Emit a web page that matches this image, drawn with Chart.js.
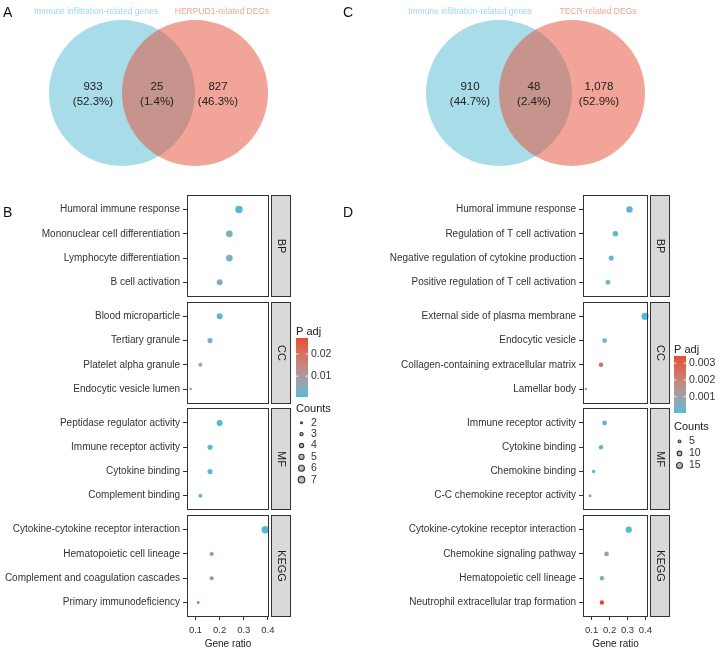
<!DOCTYPE html>
<html>
<head>
<meta charset="utf-8">
<script src="https://cdn.jsdelivr.net/npm/chart.js@4.4.1/dist/chart.umd.min.js"></script>
<style>
  body { margin: 0; background: #fff; }
  #wrap { position: relative; width: 720px; height: 650px; font-family: "Liberation Sans", Arial, sans-serif; }
  canvas { position: absolute; }
  .tag { position: absolute; font-size: 14px; color: #111; line-height: 16px; }
</style>
</head>
<body>
<div id="wrap">
  <canvas id="vennA" width="360" height="170" style="left:0;top:0"></canvas>
  <canvas id="vennC" width="360" height="170" style="left:360px;top:0"></canvas>
  <canvas id="dotB" width="360" height="480" style="left:0;top:170px"></canvas>
  <canvas id="dotD" width="360" height="480" style="left:360px;top:170px"></canvas>
  <div class="tag" style="left:3px;top:4px">A</div>
  <div class="tag" style="left:3px;top:204px">B</div>
  <div class="tag" style="left:343px;top:4px">C</div>
  <div class="tag" style="left:343px;top:204px">D</div>
</div>
<script>
const FONT = '"Liberation Sans", Arial, sans-serif';

// Venn A / C
const vennASets = ["Immune infiltration-related genes", "HERPUD1-related DEGs"];
const vennACounts = [933, 25, 827];
const vennAPct = ["52.3%", "1.4%", "46.3%"];

const vennCSets = ["Immune infiltration-related genes", "TECR-related DEGs"];
const vennCCounts = [910, 48, 1078];
const vennCPct = ["44.7%", "2.4%", "52.9%"];

// dot plots, 4 terms per facet
const facets = ["BP", "CC", "MF", "KEGG"];

const termsB = [
  "Humoral immune response", "Mononuclear cell differentiation", "Lymphocyte differentiation", "B cell activation",
  "Blood microparticle", "Tertiary granule", "Platelet alpha granule", "Endocytic vesicle lumen",
  "Peptidase regulator activity", "Immune receptor activity", "Cytokine binding", "Complement binding",
  "Cytokine-cytokine receptor interaction", "Hematopoietic cell lineage", "Complement and coagulation cascades", "Primary immunodeficiency"
];
const ratioB = [0.28, 0.24, 0.24, 0.20, 0.20, 0.16, 0.12, 0.08, 0.20, 0.16, 0.16, 0.12, 0.389, 0.167, 0.167, 0.111];
const countB = [7, 6, 6, 5, 5, 4, 3, 2, 5, 4, 4, 3, 7, 3, 3, 2];
const padjB = [0.0011, 0.0038, 0.0038, 0.0054, 0.0014, 0.0025, 0.0051, 0.006, 0.0011, 0.0014, 0.0014, 0.0017, 0.0006, 0.014, 0.014, 0.0272];

const termsD = [
  "Humoral immune response", "Regulation of T cell activation", "Negative regulation of cytokine production", "Positive regulation of T cell activation",
  "External side of plasma membrane", "Endocytic vesicle", "Collagen-containing extracellular matrix", "Lamellar body",
  "Immune receptor activity", "Cytokine binding", "Chemokine binding", "C-C chemokine receptor activity",
  "Cytokine-cytokine receptor interaction", "Chemokine signaling pathway", "Hematopoietic cell lineage", "Neutrophil extracellular trap formation"
];
const ratioD = [0.311, 0.232, 0.209, 0.191, 0.398, 0.172, 0.152, 0.068, 0.172, 0.152, 0.111, 0.091, 0.307, 0.183, 0.157, 0.157];
const countD = [14, 10, 9, 8, 17, 8, 7, 3, 8, 7, 5, 4, 13, 8, 7, 7];
const padjD = [0.00012, 0.00016, 0.0002, 0.00022, 0.00002, 0.0002, 0.0026, 0.00036, 0.00012, 0.00015, 0.00018, 0.00015, 0.00009, 0.0009, 0.00036, 0.00343];

const xTicks = [0.1, 0.2, 0.3, 0.4];
const padjTicksB = [0.01, 0.02];
const padjTicksD = [0.001, 0.002, 0.003];
const countLegendB = [2, 3, 4, 5, 6, 7];
const countLegendD = [5, 10, 15];

// colour scale (Lab interpolation like ggplot)
function toLab(hex) {
  const c = [1, 3, 5].map(i => parseInt(hex.slice(i, i + 2), 16) / 255)
    .map(v => v <= 0.04045 ? v / 12.92 : Math.pow((v + 0.055) / 1.055, 2.4));
  const X = (0.4124 * c[0] + 0.3576 * c[1] + 0.1805 * c[2]) / 0.95047;
  const Y = 0.2126 * c[0] + 0.7152 * c[1] + 0.0722 * c[2];
  const Z = (0.0193 * c[0] + 0.1192 * c[1] + 0.9505 * c[2]) / 1.08883;
  const f = t => t > 0.008856 ? Math.cbrt(t) : 7.787 * t + 16 / 116;
  return [116 * f(Y) - 16, 500 * (f(X) - f(Y)), 200 * (f(Y) - f(Z))];
}
function fromLab(lab) {
  const fy = (lab[0] + 16) / 116, fx = fy + lab[1] / 500, fz = fy - lab[2] / 200;
  const inv = t => t * t * t > 0.008856 ? t * t * t : (t - 16 / 116) / 7.787;
  const X = inv(fx) * 0.95047, Y = inv(fy), Z = inv(fz) * 1.08883;
  const r = 3.2406 * X - 1.5372 * Y - 0.4986 * Z;
  const g = -0.9689 * X + 1.8758 * Y + 0.0415 * Z;
  const b = 0.0557 * X - 0.2040 * Y + 1.0570 * Z;
  const gam = v => {
    v = v <= 0.0031308 ? 12.92 * v : 1.055 * Math.pow(v, 1 / 2.4) - 0.055;
    return Math.round(Math.min(1, Math.max(0, v)) * 255);
  };
  return `rgb(${gam(r)},${gam(g)},${gam(b)})`;
}
const LAB_LO = toLab("#4DBBD5");
const LAB_HI = toLab("#E64B35");
function padjColor(p, lo, hi) {
  const t = Math.min(1, Math.max(0, (p - lo) / (hi - lo)));
  return fromLab(LAB_LO.map((v, i) => v + t * (LAB_HI[i] - v)));
}

function makeVenn(id, sets, counts, pct, lay) {
  const textPlugin = {
    id: "vennText",
    afterDatasetsDraw(chart) {
      const ctx = chart.ctx;
      const x = chart.scales.x, y = chart.scales.y;
      ctx.save();
      ctx.textAlign = "center";
      ctx.textBaseline = "middle";
      ctx.font = `8.5px ${FONT}`;
      ctx.fillStyle = "#9DD8E6";
      ctx.fillText(sets[0], x.getPixelForValue(lay.setX[0]), y.getPixelForValue(12));
      ctx.fillStyle = "#F2A497";
      ctx.fillText(sets[1], x.getPixelForValue(lay.setX[1]), y.getPixelForValue(12));
      ctx.fillStyle = "#222";
      ctx.font = `11.5px ${FONT}`;
      counts.forEach((c, i) => {
        const px = x.getPixelForValue(lay.textX[i]);
        ctx.fillText(c.toLocaleString("en-US"), px, y.getPixelForValue(87));
        ctx.fillText("(" + pct[i] + ")", px, y.getPixelForValue(102));
      });
      ctx.restore();
    }
  };
  new Chart(document.getElementById(id), {
    type: "bubble",
    data: {
      datasets: [
        // higher order is drawn first, so the red set sits on top of the blue one
        { data: [{ x: lay.cx[0], y: 93, r: 73 }], backgroundColor: "#A7DCE8", borderWidth: 0, clip: false, order: 2 },
        { data: [{ x: lay.cx[1], y: 93, r: 73 }], backgroundColor: "rgba(229,73,49,0.5)", borderWidth: 0, clip: false, order: 1 }
      ]
    },
    options: {
      responsive: false,
      animation: false,
      events: [],
      layout: { padding: 0, autoPadding: false },
      plugins: { legend: { display: false }, tooltip: { enabled: false } },
      scales: {
        x: { type: "linear", min: 0, max: 360, display: false },
        y: { type: "linear", min: 0, max: 170, reverse: true, display: false }
      }
    },
    plugins: [textPlugin]
  });
}

makeVenn("vennA", vennASets, vennACounts, vennAPct, { cx: [122, 195], setX: [96, 222], textX: [93, 157, 218] });
makeVenn("vennC", vennCSets, vennCCounts, vennCPct, { cx: [139, 212], setX: [110, 238], textX: [110, 174, 239] });

function makeDot(id, terms, ratio, count, padj, padjTicks, countLegend, opt) {
  const pLo = Math.min(...padj), pHi = Math.max(...padj);
  const cLo = Math.min(...count), cHi = Math.max(...count);
  const rad = c => Math.sqrt(opt.rMin ** 2 + (c - cLo) / (cHi - cLo) * (opt.rMax ** 2 - opt.rMin ** 2));
  const rowY = i => Math.floor(i / 4) * 4.4 + 0.6 + (i % 4);
  const xLo = Math.min(...ratio), xHi = Math.max(...ratio);
  const pad = (xHi - xLo) * 0.05;

  const facetPlugin = {
    id: "facets",
    afterDatasetsDraw(chart) {
      const ctx = chart.ctx, a = chart.chartArea, y = chart.scales.y;
      ctx.save();
      ctx.strokeStyle = "#333";
      ctx.lineWidth = 1;
      facets.forEach((f, k) => {
        const t = Math.round(y.getPixelForValue(k * 4.4)), b = Math.round(y.getPixelForValue(k * 4.4 + 4.2));
        ctx.strokeRect(Math.round(a.left) + 0.5, t + 0.5, Math.round(a.right - a.left) - 1, b - t - 1);
        const sx = Math.round(a.right) + 2;
        ctx.fillStyle = "#D9D9D9";
        ctx.fillRect(sx, t, 20, b - t);
        ctx.strokeRect(sx + 0.5, t + 0.5, 19, b - t - 1);
        ctx.save();
        ctx.translate(sx + 10, (t + b) / 2);
        ctx.rotate(Math.PI / 2);
        ctx.fillStyle = "#1A1A1A";
        ctx.font = `11px ${FONT}`;
        ctx.textAlign = "center";
        ctx.textBaseline = "middle";
        ctx.fillText(f, 0, 0);
        ctx.restore();
      });

      // colour bar legend
      const L = opt.legend;
      ctx.fillStyle = "#1A1A1A";
      ctx.font = `11px ${FONT}`;
      ctx.textAlign = "left";
      ctx.textBaseline = "middle";
      ctx.fillText("P adj", L.x, L.titleY);
      for (let yy = L.barTop; yy < L.barBottom; yy++) {
        const p = pLo + (L.barBottom - yy - 0.5) / (L.barBottom - L.barTop) * (pHi - pLo);
        ctx.fillStyle = padjColor(p, pLo, pHi);
        ctx.fillRect(L.x, yy, 12, 1);
      }
      ctx.font = `10.5px ${FONT}`;
      padjTicks.forEach(p => {
        const ty = L.barBottom - (p - pLo) / (pHi - pLo) * (L.barBottom - L.barTop);
        ctx.strokeStyle = "rgba(255,255,255,0.8)";
        ctx.beginPath();
        ctx.moveTo(L.x, ty); ctx.lineTo(L.x + 2.5, ty);
        ctx.moveTo(L.x + 9.5, ty); ctx.lineTo(L.x + 12, ty);
        ctx.stroke();
        ctx.fillStyle = "#333";
        ctx.fillText(String(p), L.x + 15, ty);
      });

      // size legend
      ctx.fillStyle = "#1A1A1A";
      ctx.font = `11px ${FONT}`;
      ctx.fillText("Counts", L.x, L.countY);
      ctx.font = `10.5px ${FONT}`;
      countLegend.forEach((c, i) => {
        const cy = L.countY + L.step * (i + 1.2);
        ctx.beginPath();
        ctx.arc(L.x + 5.5, cy, Math.max(rad(c) - 0.4, 1), 0, Math.PI * 2);
        ctx.fillStyle = "#bbb";
        ctx.fill();
        ctx.strokeStyle = "#333";
        ctx.lineWidth = 1.1;
        ctx.stroke();
        ctx.fillStyle = "#333";
        ctx.fillText(String(c), L.x + 15, cy);
      });
      ctx.restore();
    }
  };

  new Chart(document.getElementById(id), {
    type: "scatter",
    data: {
      datasets: [{
        data: ratio.map((x, i) => ({ x: x, y: rowY(i) })),
        pointRadius: c => rad(count[c.dataIndex]),
        pointBackgroundColor: c => padjColor(padj[c.dataIndex], pLo, pHi),
        pointBorderWidth: 0,
        clip: false
      }]
    },
    options: {
      responsive: false,
      animation: false,
      events: [],
      layout: { padding: { top: 25, right: opt.right, left: 0, bottom: 0 }, autoPadding: false },
      plugins: { legend: { display: false }, tooltip: { enabled: false } },
      scales: {
        x: {
          type: "linear",
          min: xLo - pad,
          max: xHi + pad,
          afterBuildTicks: s => { s.ticks = xTicks.map(v => ({ value: v })); },
          afterFit: s => { s.height = 33; },
          ticks: {
            callback: v => v.toFixed(1), autoSkip: false, maxRotation: 0,
            font: { family: FONT, size: 9.5 }, color: "#333", padding: 5
          },
          grid: { drawOnChartArea: false, drawTicks: true, tickLength: 3, color: "#333" },
          border: { display: false },
          title: {
            display: true, text: "Gene ratio", color: "#222",
            font: { family: FONT, size: 10 }, padding: { top: 0, bottom: 0 }
          }
        },
        y: {
          type: "linear",
          min: 0,
          max: 17.4,
          reverse: true,
          afterBuildTicks: s => { s.ticks = terms.map((t, i) => ({ value: rowY(i) })); },
          afterFit: s => { s.width = opt.left; },
          ticks: {
            callback: (v, i) => terms[i], autoSkip: false,
            font: { family: FONT, size: 10 }, color: "#333", padding: 3
          },
          grid: { drawOnChartArea: false, drawTicks: true, tickLength: 4, color: "#333" },
          border: { display: false }
        }
      }
    },
    plugins: [facetPlugin]
  });
}

makeDot("dotB", termsB, ratioB, countB, padjB, padjTicksB, countLegendB, {
  left: 187, right: 91, rMin: 1.3, rMax: 3.7,
  legend: { x: 296, titleY: 162, barTop: 168, barBottom: 227, countY: 239, step: 11.4 }
});
makeDot("dotD", termsD, ratioD, countD, padjD, padjTicksD, countLegendD, {
  left: 223, right: 72, rMin: 1.3, rMax: 3.6,
  legend: { x: 314, titleY: 180, barTop: 186, barBottom: 243, countY: 257, step: 12 }
});
</script>
</body>
</html>
